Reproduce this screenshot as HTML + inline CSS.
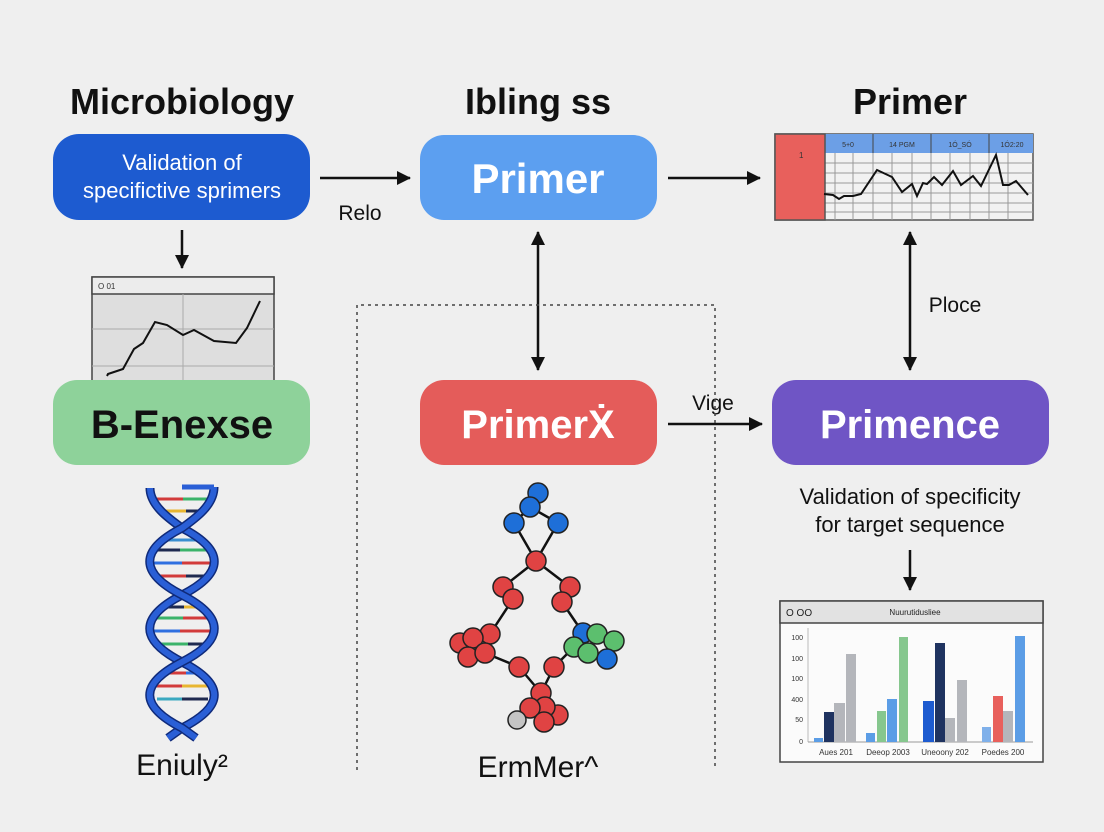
<!DOCTYPE html>
<html><head><meta charset="utf-8"><style>
html,body{margin:0;padding:0;background:#efefef;}
svg{display:block;font-family:"Liberation Sans",sans-serif;}
</style></head><body>
<svg width="1104" height="832" viewBox="0 0 1104 832" xmlns="http://www.w3.org/2000/svg">
<defs>
<marker id="ah2" markerWidth="14" markerHeight="14" refX="13" refY="7" orient="auto-start-reverse" markerUnits="userSpaceOnUse" viewBox="0 0 14 14"><path d="M0,0 L14,7 L0,14 z" fill="#111"/></marker>
</defs>
<rect x="0" y="0" width="1104" height="832" rx="14" fill="#efefef"/>

<!-- titles -->
<text x="182" y="114" font-size="36" text-anchor="middle" fill="#111" font-weight="bold">Microbiology</text>
<text x="538" y="114" font-size="36" text-anchor="middle" fill="#111" font-weight="bold">Ibling ss</text>
<text x="910" y="114" font-size="36" text-anchor="middle" fill="#111" font-weight="bold">Primer</text>

<!-- top boxes -->
<rect x="53" y="134" width="257" height="86" rx="26" fill="#1d5bd0"/>
<text x="182" y="170" font-size="22" text-anchor="middle" fill="#fff">Validation of</text>
<text x="182" y="198" font-size="22" text-anchor="middle" fill="#fff">specifictive sprimers</text>

<rect x="420" y="135" width="237" height="85" rx="24" fill="#5c9ff0"/>
<text x="538" y="193" font-size="42" text-anchor="middle" fill="#fff" font-weight="bold">Primer</text>

<!-- top arrows -->
<line x1="320" y1="178" x2="410" y2="178" stroke="#111" stroke-width="2.5" marker-end="url(#ah2)"/>
<text x="360" y="220" font-size="21" text-anchor="middle" fill="#111">Relo</text>
<line x1="668" y1="178" x2="760" y2="178" stroke="#111" stroke-width="2.5" marker-end="url(#ah2)"/>
<line x1="182" y1="230" x2="182" y2="268" stroke="#111" stroke-width="2.5" marker-end="url(#ah2)"/>

<!-- top right chart -->
<rect x="775" y="134" width="258" height="86" fill="#f2f2f2" stroke="#555" stroke-width="1.5"/>
<rect x="825" y="134" width="208" height="19" fill="#6c9fe6"/>
<g stroke="#999" stroke-width="1">
<line x1="825" y1="163" x2="1033" y2="163"/><line x1="825" y1="173" x2="1033" y2="173"/><line x1="825" y1="183" x2="1033" y2="183"/><line x1="825" y1="193" x2="1033" y2="193"/><line x1="825" y1="203" x2="1033" y2="203"/><line x1="825" y1="212" x2="1033" y2="212"/>
<line x1="835" y1="153" x2="835" y2="220"/><line x1="853" y1="153" x2="853" y2="220"/><line x1="873" y1="153" x2="873" y2="220"/><line x1="892" y1="153" x2="892" y2="220"/><line x1="912" y1="153" x2="912" y2="220"/><line x1="931" y1="153" x2="931" y2="220"/><line x1="950" y1="153" x2="950" y2="220"/><line x1="970" y1="153" x2="970" y2="220"/><line x1="989" y1="153" x2="989" y2="220"/><line x1="1008" y1="153" x2="1008" y2="220"/>
</g>
<g stroke="#444" stroke-width="1"><line x1="873" y1="134" x2="873" y2="153"/><line x1="931" y1="134" x2="931" y2="153"/><line x1="989" y1="134" x2="989" y2="153"/></g>
<g font-size="7" fill="#333" text-anchor="middle"><text x="848" y="147">5+0</text><text x="902" y="147">14 PGM</text><text x="960" y="147">1Ó_SÓ</text><text x="1012" y="147">1Ó2:20</text></g>
<rect x="775" y="134" width="50" height="86" fill="#e8605c" stroke="#555" stroke-width="1.5"/>
<text x="799" y="158" font-size="8" fill="#333">1</text>
<polyline fill="none" stroke="#111" stroke-width="2" points="824,194 833,195 839,199 844,196 853,196 861,194 877,170 892,177 902,192 912,184 917,196 923,183 927,184 934,177 942,185 953,171 961,185 973,176 981,186 996,155 1003,185 1009,185 1016,181 1028,195"/>

<!-- left chart -->
<rect x="92" y="277" width="182" height="104" fill="#dedede" stroke="#444" stroke-width="1.5"/>
<rect x="92" y="277" width="182" height="17" fill="#ececec" stroke="#444" stroke-width="1.5"/>
<text x="98" y="289" font-size="8" fill="#333">O 01</text>
<g stroke="#aaa" stroke-width="1"><line x1="92" y1="329" x2="274" y2="329"/><line x1="92" y1="366" x2="274" y2="366"/><line x1="183" y1="294" x2="183" y2="381"/></g>
<polyline fill="none" stroke="#111" stroke-width="2" points="107,376 108,374 123,369 134,349 143,343 155,322 167,325 183,335 194,330 214,341 236,343 247,328 260,301"/>

<!-- middle boxes -->
<rect x="53" y="380" width="257" height="85" rx="24" fill="#8ed29a"/>
<text x="182" y="438" font-size="40" text-anchor="middle" fill="#111" font-weight="bold">B-Enexse</text>

<rect x="420" y="380" width="237" height="85" rx="24" fill="#e45c5a"/>
<text x="538" y="438" font-size="40" text-anchor="middle" fill="#fff" font-weight="bold">PrimerẊ</text>

<rect x="772" y="380" width="277" height="85" rx="24" fill="#6f55c5"/>
<text x="910" y="438" font-size="40" text-anchor="middle" fill="#fff" font-weight="bold">Primence</text>

<!-- bidirectional arrows -->
<line x1="538" y1="232" x2="538" y2="370" stroke="#111" stroke-width="2.5" marker-start="url(#ah2)" marker-end="url(#ah2)"/>
<line x1="910" y1="232" x2="910" y2="370" stroke="#111" stroke-width="2.5" marker-start="url(#ah2)" marker-end="url(#ah2)"/>
<text x="955" y="312" font-size="21" text-anchor="middle" fill="#111">Ploce</text>

<line x1="668" y1="424" x2="762" y2="424" stroke="#111" stroke-width="2.5" marker-end="url(#ah2)"/>
<text x="713" y="410" font-size="21" text-anchor="middle" fill="#111">Vige</text>

<!-- dotted -->
<g stroke="#444" stroke-width="1.5" stroke-dasharray="3,4" fill="none">
<path d="M357,770 L357,305 L715,305 L715,770"/>
</g>

<text x="910" y="504" font-size="22" text-anchor="middle" fill="#111">Validation of specificity</text>
<text x="910" y="532" font-size="22" text-anchor="middle" fill="#111">for target sequence</text>
<line x1="910" y1="550" x2="910" y2="590" stroke="#111" stroke-width="2.5" marker-end="url(#ah2)"/>

<!-- bar chart -->
<rect x="780" y="601" width="263" height="161" fill="#fbfbfb" stroke="#444" stroke-width="1.5"/>
<rect x="780" y="601" width="263" height="22" fill="#e2e2e2" stroke="#444" stroke-width="1.5"/>
<text x="786" y="616" font-size="10" fill="#222">O  OO</text>
<text x="915" y="615" font-size="8" fill="#222" text-anchor="middle">Nuurutidusliee</text>
<g font-size="7" fill="#333" text-anchor="end"><text x="803" y="640">100</text><text x="803" y="661">100</text><text x="803" y="681">100</text><text x="803" y="702">400</text><text x="803" y="722">50</text><text x="803" y="744">0</text></g>
<line x1="808" y1="628" x2="808" y2="742" stroke="#bbb"/>
<line x1="808" y1="742" x2="1033" y2="742" stroke="#999"/>
<g>
<rect x="814" y="738" width="9" height="4" fill="#5b9de6"/><rect x="824" y="712" width="10" height="30" fill="#1f3360"/><rect x="834" y="703" width="11" height="39" fill="#b4b6bb"/><rect x="846" y="654" width="10" height="88" fill="#b4b6bb"/>
<rect x="866" y="733" width="9" height="9" fill="#5b9de6"/><rect x="877" y="711" width="9" height="31" fill="#86c78e"/><rect x="887" y="699" width="10" height="43" fill="#5b9de6"/><rect x="899" y="637" width="9" height="105" fill="#86c78e"/>
<rect x="923" y="701" width="11" height="41" fill="#1d5bd0"/><rect x="935" y="643" width="10" height="99" fill="#1f3360"/><rect x="945" y="718" width="10" height="24" fill="#b4b6bb"/><rect x="957" y="680" width="10" height="62" fill="#b4b6bb"/>
<rect x="982" y="727" width="9" height="15" fill="#7fb0ea"/><rect x="993" y="696" width="10" height="46" fill="#e8605c"/><rect x="1003" y="711" width="10" height="31" fill="#b4b6bb"/><rect x="1015" y="636" width="10" height="106" fill="#5b9de6"/>
</g>
<g font-size="8" fill="#333" text-anchor="middle"><text x="836" y="755">Aues 201</text><text x="888" y="755">Deeop 2003</text><text x="945" y="755">Uneoony 202</text><text x="1003" y="755">Poedes 200</text></g>

<!-- DNA -->
<g stroke-width="3">
<line x1="153" y1="499" x2="212" y2="499" stroke="#d23b3b"/><line x1="183" y1="499" x2="212" y2="499" stroke="#3bb36a"/>
<line x1="163" y1="511" x2="202" y2="511" stroke="#e8b631"/><line x1="186" y1="511" x2="202" y2="511" stroke="#1f2a50"/>
<line x1="160" y1="540" x2="205" y2="540" stroke="#3b8fd0"/>
<line x1="154" y1="550" x2="212" y2="550" stroke="#1f2a50"/><line x1="180" y1="550" x2="212" y2="550" stroke="#3bb36a"/>
<line x1="153" y1="563" x2="212" y2="563" stroke="#2f6fe0"/><line x1="182" y1="563" x2="212" y2="563" stroke="#d23b3b"/>
<line x1="160" y1="576" x2="205" y2="576" stroke="#d23b3b"/><line x1="186" y1="576" x2="205" y2="576" stroke="#1f2a50"/>
<line x1="165" y1="607" x2="200" y2="607" stroke="#1f2a50"/><line x1="184" y1="607" x2="200" y2="607" stroke="#e8b631"/>
<line x1="154" y1="618" x2="212" y2="618" stroke="#3bb36a"/><line x1="183" y1="618" x2="212" y2="618" stroke="#d23b3b"/>
<line x1="153" y1="631" x2="212" y2="631" stroke="#2f6fe0"/><line x1="180" y1="631" x2="212" y2="631" stroke="#d23b3b"/>
<line x1="160" y1="644" x2="205" y2="644" stroke="#3bb36a"/><line x1="188" y1="644" x2="205" y2="644" stroke="#1f2a50"/>
<line x1="164" y1="673" x2="201" y2="673" stroke="#d23b3b"/><line x1="186" y1="673" x2="201" y2="673" stroke="#2f6fe0"/>
<line x1="154" y1="686" x2="212" y2="686" stroke="#d23b3b"/><line x1="182" y1="686" x2="212" y2="686" stroke="#e8b631"/>
<line x1="157" y1="699" x2="208" y2="699" stroke="#3ba9c0"/><line x1="182" y1="699" x2="208" y2="699" stroke="#1f2a50"/>
</g>
<g fill="none" stroke-linecap="butt">
<path d="M150,488 C150,505 168,518 182,528 C225,550 225,573 182,595 C139,617 139,640 182,662 C225,684 225,706 182,728 L168,738" stroke="#0f2a7a" stroke-width="9"/>
<path d="M150,488 C150,505 168,518 182,528 C225,550 225,573 182,595 C139,617 139,640 182,662 C225,684 225,706 182,728 L168,738" stroke="#2a5fd6" stroke-width="6"/>
<path d="M214,487 C214,505 196,518 182,528 C139,550 139,573 182,595 C225,617 225,640 182,662 C139,684 139,706 182,728 L196,738" stroke="#0f2a7a" stroke-width="9"/>
<path d="M214,487 C214,505 196,518 182,528 C139,550 139,573 182,595 C225,617 225,640 182,662 C139,684 139,706 182,728 L196,738" stroke="#2a5fd6" stroke-width="6"/>
<line x1="182" y1="487" x2="214" y2="487" stroke="#2a5fd6" stroke-width="5"/>
</g>
<text x="182" y="775" font-size="30" text-anchor="middle" fill="#111">Eniuly²</text>

<!-- molecule -->
<g stroke="#111" stroke-width="2.5">
<line x1="514" y1="523" x2="536" y2="561"/><line x1="558" y1="523" x2="536" y2="561"/>
<line x1="530" y1="507" x2="558" y2="523"/><line x1="530" y1="507" x2="514" y2="523"/>
<line x1="536" y1="561" x2="503" y2="587"/><line x1="536" y1="561" x2="570" y2="587"/>
<line x1="513" y1="599" x2="490" y2="634"/><line x1="562" y1="602" x2="583" y2="633"/>
<line x1="485" y1="653" x2="519" y2="667"/><line x1="519" y1="667" x2="541" y2="693"/>
<line x1="574" y1="647" x2="554" y2="667"/><line x1="554" y1="667" x2="541" y2="693"/>
</g>
<g stroke="#222" stroke-width="1.5">
<circle cx="538" cy="493" r="10" fill="#1e6fd8"/><circle cx="530" cy="507" r="10" fill="#1e6fd8"/><circle cx="514" cy="523" r="10" fill="#1e6fd8"/><circle cx="558" cy="523" r="10" fill="#1e6fd8"/>
<circle cx="536" cy="561" r="10" fill="#e04343"/><circle cx="503" cy="587" r="10" fill="#e04343"/><circle cx="513" cy="599" r="10" fill="#e04343"/><circle cx="570" cy="587" r="10" fill="#e04343"/><circle cx="562" cy="602" r="10" fill="#e04343"/>
<circle cx="460" cy="643" r="10" fill="#e04343"/><circle cx="490" cy="634" r="10" fill="#e04343"/><circle cx="473" cy="638" r="10" fill="#e04343"/><circle cx="468" cy="657" r="10" fill="#e04343"/><circle cx="485" cy="653" r="10" fill="#e04343"/>
<circle cx="583" cy="633" r="10" fill="#1e6fd8"/><circle cx="597" cy="634" r="10" fill="#5cbf6e"/><circle cx="614" cy="641" r="10" fill="#5cbf6e"/><circle cx="607" cy="659" r="10" fill="#1e6fd8"/><circle cx="574" cy="647" r="10" fill="#5cbf6e"/><circle cx="588" cy="653" r="10" fill="#5cbf6e"/>
<circle cx="519" cy="667" r="10" fill="#e04343"/><circle cx="554" cy="667" r="10" fill="#e04343"/><circle cx="541" cy="693" r="10" fill="#e04343"/>
<circle cx="558" cy="715" r="10" fill="#e04343"/><circle cx="545" cy="707" r="10" fill="#e04343"/><circle cx="530" cy="708" r="10" fill="#e04343"/><circle cx="517" cy="720" r="9" fill="#c4c4c4"/><circle cx="544" cy="722" r="10" fill="#e04343"/>
</g>
<text x="538" y="777" font-size="30" text-anchor="middle" fill="#111">ErmMer^</text>
</svg>
</body></html>
